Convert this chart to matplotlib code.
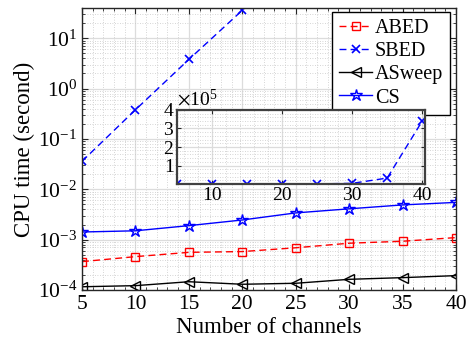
import matplotlib
matplotlib.use("Agg")
import matplotlib.pyplot as plt
from matplotlib.ticker import LogLocator, MultipleLocator, NullFormatter
import numpy as np

plt.rcParams['font.family'] = ['Liberation Serif', 'DejaVu Serif']
plt.rcParams['mathtext.fontset'] = 'stix'

channels = [5, 10, 15, 20, 25, 30, 35, 40]
abed = [3.66e-4, 4.6e-4, 5.6e-4, 5.8e-4, 6.9e-4, 8.5e-4, 9.3e-4, 1.1e-3]
sbed = [0.036, 0.38, 3.8, 36, 360, 3600, 3.2e4, 3.4e5]
asweep = [1.16e-4, 1.22e-4, 1.46e-4, 1.3e-4, 1.36e-4, 1.63e-4, 1.76e-4, 1.93e-4]
cs = [1.42e-3, 1.5e-3, 1.9e-3, 2.46e-3, 3.4e-3, 4.1e-3, 4.9e-3, 5.5e-3]

W, H = 469, 351
fig = plt.figure(figsize=(W / 100, H / 100), dpi=100)
ax = fig.add_axes([82 / W, (H - 290) / H, (456 - 82) / W, (290 - 8) / H])

frame_c = '#262626'
grid_major = '#dcdcdc'
grid_minor = '#c8c8c8'

l1, = ax.plot(channels, abed, color='red', ls=(0, (5, 3)), lw=1, marker='s', ms=6, mfc='none', mew=1, label='ABED')
l2, = ax.plot(channels, sbed, color='blue', ls=(0, (5, 3)), lw=1, marker='x', ms=6, mew=1.2, label='SBED')
l3, = ax.plot(channels, asweep, color='black', ls='-', lw=1, marker='<', ms=7, mfc='none', mew=1, label='ASweep')
l4, = ax.plot(channels, cs, color='blue', ls='-', lw=1, marker='*', ms=9, mfc='none', mew=1, label='CS')

ax.set_yscale('log')
ax.set_xlim(5, 40)
ax.set_ylim(1e-4, 40)
ax.set_xticks(channels)
ax.xaxis.set_minor_locator(MultipleLocator(1))
ax.yaxis.set_major_locator(LogLocator(base=10, numticks=20))
ax.yaxis.set_minor_locator(LogLocator(base=10, subs=np.arange(2, 10), numticks=20))
ax.yaxis.set_minor_formatter(NullFormatter())
ax.grid(True, which='major', color=grid_major, lw=0.9, ls='-')
ax.grid(True, which='minor', color=grid_minor, lw=0.6, ls=(0, (1, 2)))
ax.set_axisbelow(True)
ax.tick_params(which='both', direction='in', top=True, right=True, colors=frame_c, labelcolor='black')
ax.tick_params(which='major', labelsize=15.5, length=4)
ax.tick_params(which='minor', length=2)
for s in ax.spines.values():
    s.set_color(frame_c)
    s.set_linewidth(1.0)
ax.set_xlabel('Number of channels', fontsize=16.5, labelpad=2)
ax.set_ylabel('CPU time (second)', fontsize=16.5, labelpad=2)

leg = ax.legend(handles=[l1, l2, l3, l4], loc='upper right',
                bbox_to_anchor=(450 / W, 1 - 12 / H), bbox_transform=fig.transFigure,
                borderaxespad=0, fontsize=14.5, fancybox=False, framealpha=1,
                edgecolor='black', handlelength=1.6, handletextpad=0.15,
                borderpad=0.35, labelspacing=0.2)
leg.get_frame().set_linewidth(1.0)

# inset
ins = fig.add_axes([177 / W, (H - 184) / H, (425 - 177) / W, (184 - 110) / H])
ins.plot(channels, sbed, color='blue', ls=(0, (5, 3)), lw=1, marker='x', ms=6, mew=1.2)
ins.set_xlim(5, 40.4)
ins.set_ylim(0, 4e5)
ins.set_xticks([10, 20, 30, 40])
ins.xaxis.set_minor_locator(MultipleLocator(2))
ins.set_yticks([1e5, 2e5, 3e5, 4e5])
ins.yaxis.set_minor_locator(MultipleLocator(0.2e5))
ins.ticklabel_format(axis='y', style='sci', scilimits=(0, 0), useMathText=True)
ins.yaxis.get_offset_text().set_fontsize(14)
ins.grid(True, which='major', color=grid_major, lw=0.9, ls='-')
ins.grid(True, which='minor', color=grid_minor, lw=0.6, ls=(0, (1, 2)))
ins.set_axisbelow(True)
ins.tick_params(which='both', direction='in', top=True, right=True, colors=frame_c, labelcolor='black')
ins.tick_params(which='major', labelsize=14, length=3, pad=2)
ins.tick_params(which='minor', length=0)
for s in ins.spines.values():
    s.set_color('#404040')
    s.set_linewidth(1.6)

fig.savefig('out.png', dpi=100)
